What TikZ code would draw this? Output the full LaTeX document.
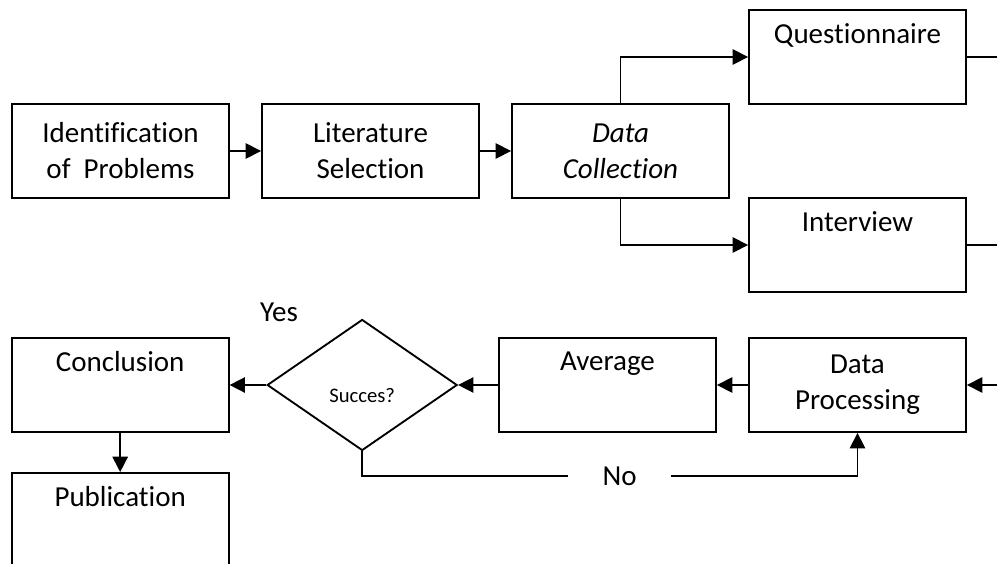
\documentclass[tikz,border=0pt]{standalone}
\usepackage{fontspec}
\setmainfont[Ligatures=NoCommon]{Carlito}
\usetikzlibrary{shapes.geometric,arrows.meta,calc}
\tikzstyle{line} = [draw, line width=1.2pt, -{Triangle[length=11.5pt,width=11.5pt]}]
\tikzstyle{stub} = [draw, line width=1.2pt]
\tikzstyle{block} = [draw, line width=1.4pt, rectangle, align=center, text centered, minimum width=162.75pt, minimum height=70.5pt, font=\fontsize{21.75}{27}\selectfont]
\tikzstyle{decision} = [draw, line width=1.4pt, diamond, minimum width=142.5pt, minimum height=98.25pt, inner sep=0pt, text height=25.5pt, text depth=0pt, font=\fontsize{15.5}{18}\selectfont]

\begin{document}
\begin{tikzpicture}[node distance = 187.5pt]
        \useasboundingbox (0,0) rectangle (747.75pt,-423pt);
        \node[block] (ident) at (90.375pt,-113.25pt) {Identification\\of~~Problems};
        \node[block, right of=ident] (lit) {Literature\\Selection};
        \node[block, right of=lit] (coll) {\textit{Data}\\\textit{Collection}};
        \node[block, right of=coll, xshift=-9.75pt, yshift=70.5pt] (quest) {Questionnaire\\\strut};
        \node[block, right of=coll, xshift=-9.75pt, yshift=-70.5pt] (inter) {Interview\\\strut};
        \node[block, below of=inter, node distance=105pt] (proc) {Data\\Processing};
        \node[block, left of=proc] (avg) {Average\\\strut};
        \node[decision, left of=avg, node distance=184pt] (succ) {Succes?};
        \node[block, left of=succ, node distance=181.5pt] (concl) {Conclusion\\\strut};
        \node[block, below of=concl, node distance=101.25pt] (pub) {Publication\\\strut};
        \node[font=\fontsize{21.75}{27}\selectfont] (yes) at ([xshift=-62.4pt, yshift=4.9pt]succ.north) {Yes};
        % loose ends running off the right edge
        \coordinate (qout) at ([xshift=30pt]quest.east);
        \coordinate (iout) at ([xshift=30pt]inter.east);
        \coordinate (pin) at ([xshift=30pt]proc.east);
        \path[line] (ident) -- (lit);
        \path[line] (lit) -- (coll);
        \path[line] (coll.north) |- (quest.west);
        \path[line] (coll.south) |- (inter.west);
        \path[stub] (quest.east) -- (qout);
        \path[stub] (inter.east) -- (iout);
        \path[line] (pin) -- (proc.east);
        \path[line] (proc) -- (avg);
        \path[line] (avg) -- (succ);
        \path[line] (succ) -- (concl);
        \path[line] (concl) -- (pub);
        \path[line] (succ.south) -- ++(0,-18.4pt) -| node[pos=0.26, anchor=center, fill=white, inner xsep=26pt, font=\fontsize{21.75}{27}\selectfont] {No} (proc.south);
    \end{tikzpicture}
\end{document}
